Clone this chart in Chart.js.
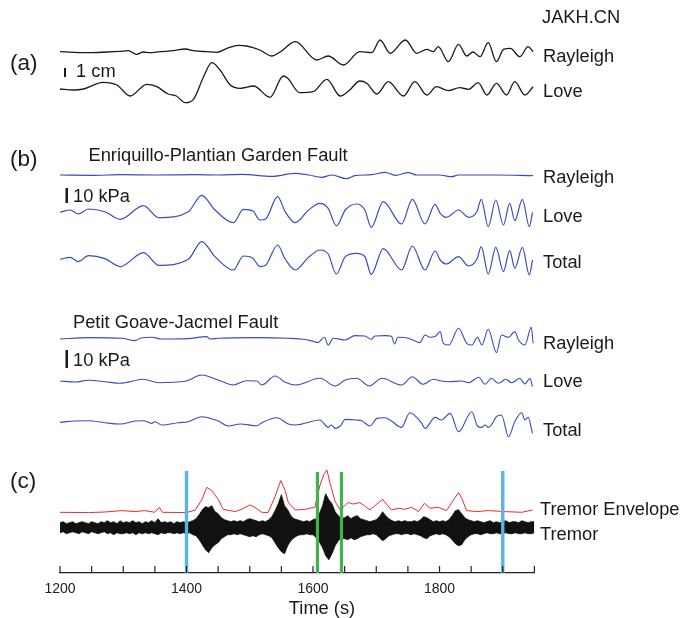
<!DOCTYPE html>
<html><head><meta charset="utf-8">
<script src="https://cdn.jsdelivr.net/npm/chart.js@4.4.1/dist/chart.umd.min.js"></script>
<style>html,body{margin:0;padding:0;background:#fff}#wrap{width:694px;height:618px}</style>
</head><body><div id="wrap"><canvas id="c" width="694" height="618"></canvas></div>
<script>
// ---------- data (time in s, amplitude in plot units) ----------
const tickLabels = [1200, 1400, 1600, 1800];

// (a) JAKH.CN displacement
const aRayT = [1200,1221,1247,1274,1295,1308,1321,1332,1342,1358,1379,1398,1411,1432,1448,1464,1482,1495,1516,1535,1548,1572,1606,1624,1648,1674,1693,1706,1722,1746,1764,1780,1790,1798,1814,1830,1843,1853,1864,1877,1890,1901,1912,1927,1940,1948];
const aRayV = [0.3,-0.3,-0.7,0,0.7,1.3,-2.3,0,-0.7,0.3,1.3,3,1.3,0.3,-0.3,3.7,6.7,6,2,-4,0,10.3,-8,-4,-13,0.3,-0.7,12,-1.3,12,-1.3,2.7,0.3,5.3,-9.7,7.7,-4,0,-4.7,9.3,-9.7,2.7,3.7,-4.7,5.3,0.3];
const aLoveT = [1200,1221,1237,1268,1290,1311,1337,1353,1371,1384,1398,1411,1427,1440,1453,1469,1485,1506,1532,1553,1560,1579,1600,1622,1643,1658,1674,1685,1701,1719,1743,1761,1780,1795,1814,1832,1846,1861,1875,1890,1906,1919,1935,1948];
const aLoveV = [0,-1,0,6.7,4,-7,4.7,2.3,-5,-7,-13.7,-10.3,12.3,26.3,19,4,0.7,3,-8.3,13,10.7,-3.7,-2.7,9.7,-7,-1,8,5.7,-5,7.3,-7,7.3,-6,2.3,-1.7,1.3,-0.3,6.3,-6,5.7,-6,7.3,-6,2.3];

// (b) Enriquillo-Plantian Garden Fault stress
const bRayT = [1200,1250,1298,1350,1414,1450,1487,1535,1572,1593,1614,1630,1653,1666,1693,1714,1730,1751,1764,1800,1819,1830,1888,1948];
const bRayV = [0,-0.3,0.3,0,0.3,0,0.7,-1.3,1.7,0,-2.3,0,-3.7,-0.7,0.3,2.7,-0.3,2.3,0,0,-1.7,0,0,-0.7];
const bLoveT = [1200,1216,1229,1245,1271,1295,1332,1356,1403,1424,1445,1474,1490,1505,1516,1525,1544,1556,1572,1593,1611,1624,1637,1651,1669,1682,1692,1711,1740,1757,1777,1793,1801,1811,1830,1846,1859,1866,1877,1889,1901,1911,1919,1931,1942,1947];
const bLoveV = [-0.3,2,-2,3,0.3,-7.3,6.3,-5.7,0.3,16.7,2,-10.7,2.7,1,-8,-7,15.3,0.3,-10.7,2,8.7,3.7,-14,2,8,2,-15.3,10.3,-12,12.7,-12,7.7,-1.3,-5.3,2,-5.3,0.3,12.7,-14.7,12,-13,8.7,-8.7,12.7,-14.7,-0.3];
const bTotT = [1200,1216,1229,1245,1271,1295,1332,1356,1403,1424,1445,1474,1490,1505,1516,1525,1544,1556,1572,1593,1611,1624,1637,1651,1669,1682,1692,1711,1740,1757,1777,1793,1801,1811,1830,1846,1859,1866,1877,1889,1901,1911,1919,1931,1942,1947];
const bTotV = [0,2,-2.3,3.7,0.7,-7.3,6.7,-6,0,17.7,2.7,-10.7,3.3,1,-7.3,-6,14.3,0.3,-10.7,2,9.3,5.3,-14.7,2.7,6,2.7,-15,10.7,-10.7,13.3,-10.7,8.3,-0.7,-4.7,2.7,-6.7,0,12.7,-14.7,12,-12.3,8.7,-9,12,-15.7,-0.7];

// (b) Petit Goave-Jacmel Fault stress
const cRayT = [1200,1245,1298,1319,1327,1345,1361,1403,1432,1437,1450,1508,1561,1585,1600,1608,1618,1624,1632,1651,1666,1682,1692,1698,1714,1724,1729,1734,1751,1769,1777,1785,1793,1801,1806,1815,1830,1843,1851,1860,1867,1877,1890,1898,1909,1919,1925,1935,1945,1948];
const cRayV = [-0.7,0.7,0,-2.3,0,1,-0.7,-0.3,1.7,-0.7,0,0.7,0,-1,-3,-4.3,1,-6.7,0,-1.7,2.7,2.3,-1,2.3,2.7,2,-5.7,1,0,-4.3,3.3,1,1.7,6.7,-5,-6.7,10,-5,-6.7,1,-6.7,9,-14.3,3.3,1,6.7,-1.7,-6.7,11,-5];
const cLoveT = [1200,1224,1245,1271,1295,1332,1356,1398,1424,1450,1474,1495,1511,1519,1540,1556,1572,1611,1635,1651,1669,1689,1709,1740,1757,1774,1790,1803,1814,1835,1846,1862,1872,1882,1893,1905,1914,1927,1935,1943,1947];
const cLoveV = [0,-1,0.7,-0.7,-2.3,1.7,-1.7,-0.3,6,1,-4,0.3,0,-4,5,-1.3,-4,2.7,-5,1,2.7,-5,2.7,-4,4.3,-3.3,1.7,0,-0.7,0,-1.7,3.7,-3.3,2.7,-2.3,1.7,-1.7,2.7,-3,2.7,-5.7];
const cTotT = [1200,1224,1245,1271,1295,1319,1332,1345,1350,1361,1387,1403,1424,1450,1466,1485,1511,1519,1543,1561,1572,1611,1624,1629,1635,1643,1651,1669,1677,1690,1701,1714,1724,1740,1753,1772,1777,1793,1803,1817,1830,1851,1860,1867,1872,1877,1882,1890,1898,1909,1919,1930,1935,1940,1947];
const cTotV = [-0.7,0.7,1,-1,-2.3,0.7,1,-1.7,0,-3.3,-1,0,5,0.7,-4.3,-2.3,-4,-1,4,-2.3,-3.3,1.7,-5.7,-3.3,-6.7,-4.3,2.3,1.7,1,-4.3,3.3,4,0.7,-5.7,9,-1.7,-6.7,4.3,1.7,8.3,-10,10,-4.3,-5.7,-3.3,-5.7,-3.3,5,6.7,-15,0,9,1.7,4.3,-11.7];

// (c) tremor envelope
const envT = [1200,1245,1271,1298,1319,1334,1350,1357,1362,1400,1414,1424,1432,1440,1450,1458,1477,1487,1500,1508,1519,1529,1540,1549,1556,1561,1572,1587,1603,1611,1618,1622,1627,1635,1643,1651,1656,1664,1674,1682,1690,1701,1710,1716,1724,1735,1745,1756,1767,1776,1785,1798,1811,1822,1830,1835,1843,1859,1877,1904,1930,1947];
const envV = [0,-0.3,0.3,1.7,0.7,1.7,0,5,0,-0.3,2.3,12.3,25,21.7,13,3,0.7,3,7.3,5,0,-0.3,15.7,31.7,21.7,9.7,2.3,3,5,27.3,39,42.3,29,10.7,2.3,7.3,9.7,8.3,9.7,6.3,2.3,8.3,13,8.3,2.3,4,3,5,0.7,9,4,5,1.7,12.3,19.7,14,1.7,0.7,1.7,0.7,0,2.3];
// (c) tremor band: upper / lower extent, sampled every 5 s from 1200 s
const TREM_T0 = 1200, TREM_DT = 5;
const tremUp = [5,6,4,5,6,4,5,6,5,4,6,5,4,6,5,7,5,6,4,7,
  5,6,5,7,5,6,4,6,5,7,5,9,5,6,5,6,4,6,5,6,
  5,6,7,9,13,18,21,20,22,16,14,10,8,7,6,7,6,7,6,8,
  9,8,7,6,7,6,8,11,17,24,33,22,18,12,9,8,7,6,7,6,
  8,9,14,22,34,28,24,16,12,9,10,12,9,11,12,9,8,7,6,7,
  8,11,16,12,9,7,6,7,6,7,6,6,7,6,8,11,10,8,6,7,
  6,7,6,8,12,17,18,14,10,8,7,6,7,6,5,6,7,5,6,5,
  6,7,5,6,6,5,7,6,5,6,6];
const tremLo = [5,4,6,5,4,5,6,4,5,6,4,5,6,5,4,6,5,7,5,6,
  6,5,6,5,7,5,6,5,6,5,6,7,5,6,5,5,6,5,6,5,
  6,5,7,8,12,17,22,25,20,17,15,11,9,7,7,6,7,6,7,8,
  9,8,9,7,6,7,8,10,15,20,24,26,18,13,10,8,7,7,6,7,
  7,10,14,20,28,32,26,18,13,10,11,12,10,12,11,9,8,7,7,6,
  7,10,13,11,8,7,6,6,7,6,6,7,6,7,8,10,11,8,7,6,
  7,6,7,9,12,16,18,17,12,9,7,6,6,7,6,5,6,6,5,6,
  6,5,6,6,5,6,6,5,6,6,5];
const tremT = tremUp.map((_, i) => TREM_T0 + i * TREM_DT);

// marker times
const blueMarks = [1400, 1900];
const greenMarks = [1607, 1645];

// ---------- layout (pixel heights above the time axis) ----------
const X_MIN = 1200, X_MAX = 1950, TICK_STEP = 50;
const H = 573;
const base = {aRay:521, aLove:484, bRay:398, bLove:361, bTot:313.7, cRay:234.7, cLove:192, cTot:151.3, env:60.7, trem:45.3};
const MARK_TOP = {blue:102, green:101};

function pts(ts, vs, b){ return ts.map((t,i)=>({x:t, y:b+vs[i]})); }
function ptsNeg(ts, vs, b){ return ts.map((t,i)=>({x:t, y:b-vs[i]})); }

const BLK = '#1a1a1a', BLU = '#3a4cb8', RED = '#ec2a2e';
function trace(data, color, w){
  return {data, borderColor:color, borderWidth:w, pointRadius:0, fill:false, cubicInterpolationMode:'monotone', order:2};
}
const datasets = [
  trace(pts(aRayT,aRayV,base.aRay), BLK, 1.3),
  trace(pts(aLoveT,aLoveV,base.aLove), BLK, 1.3),
  trace(pts(bRayT,bRayV,base.bRay), BLU, 1.2),
  trace(pts(bLoveT,bLoveV,base.bLove), BLU, 1.2),
  trace(pts(bTotT,bTotV,base.bTot), BLU, 1.2),
  trace(pts(cRayT,cRayV,base.cRay), BLU, 1.1),
  trace(pts(cLoveT,cLoveV,base.cLove), BLU, 1.1),
  trace(pts(cTotT,cTotV,base.cTot), BLU, 1.1),
  {data:pts(envT,envV,base.env), borderColor:RED, borderWidth:1, pointRadius:0, tension:0, fill:false, order:2},
  {data:pts(tremT,tremUp,base.trem), borderColor:'#111', borderWidth:0.8, pointRadius:0, tension:0, fill:false, order:3},
  {data:ptsNeg(tremT,tremLo,base.trem), borderColor:'#111', borderWidth:0.8, backgroundColor:'#111', pointRadius:0, tension:0, fill:'-1', order:3}
];
blueMarks.forEach(t=>datasets.push({data:[{x:t,y:0},{x:t,y:MARK_TOP.blue}], borderColor:'#5ab4e6', borderWidth:3.4, pointRadius:0, fill:false, order:0}));
greenMarks.forEach(t=>datasets.push({data:[{x:t,y:0},{x:t,y:MARK_TOP.green}], borderColor:'#3cb54a', borderWidth:3.2, pointRadius:0, fill:false, order:0}));

const FONT = '"Liberation Sans", Arial, Helvetica, sans-serif';
const FS = 18.3, FP = 22.5;
const texts = [
  ['JAKH.CN',542,23.3,FS],
  ['(a)',10,69.5,FP],
  ['Rayleigh',543,61.5,FS],
  ['Love',543,96.5,FS],
  ['1 cm',76,76.5,FS],
  ['(b)',10,166.3,FP],
  ['Enriquillo-Plantian Garden Fault',88.5,161,FS],
  ['Rayleigh',543,183.3,FS],
  ['10 kPa',73,201.7,FS],
  ['Love',543,221.7,FS],
  ['Total',543,268.3,FS],
  ['Petit Goave-Jacmel Fault',73,328.3,FS],
  ['Rayleigh',543,349.3,FS],
  ['10 kPa',73,365.7,FS],
  ['Love',543,387.3,FS],
  ['Total',543,436,FS],
  ['(c)',10,488,FP],
  ['Tremor Envelope',540,515,FS],
  ['Tremor',540,540,FS],
  ['Time (s)',322,614,FS,'center']
];
const bars = [[64,68,2,9],[65.5,188,2.5,15],[65.5,350,2.5,18]];

const annot = {
  id:'annot',
  afterDraw(chart){
    const ctx = chart.ctx, xs = chart.scales.x, ys = chart.scales.y;
    ctx.save();
    ctx.strokeStyle = '#222'; ctx.lineWidth = 1.2;
    for(let t=X_MIN; t<=X_MAX; t+=TICK_STEP){
      const x = xs.getPixelForValue(t);
      ctx.beginPath(); ctx.moveTo(x, ys.bottom); ctx.lineTo(x, ys.bottom-7); ctx.stroke();
    }
    ctx.fillStyle = '#1a1a1a';
    bars.forEach(b=>ctx.fillRect(b[0],b[1],b[2],b[3]));
    ctx.textBaseline = 'alphabetic';
    texts.forEach(t=>{
      ctx.font = t[3]+'px '+FONT;
      ctx.textAlign = t[4] || 'left';
      ctx.fillText(t[0], t[1], t[2]);
    });
    ctx.restore();
  }
};

new Chart(document.getElementById('c'), {
  type:'line',
  data:{datasets},
  options:{
    responsive:false, animation:false, devicePixelRatio:1,
    layout:{padding:{left:60, right:694-534.4, top:0, bottom:0}},
    plugins:{legend:{display:false}, tooltip:{enabled:false}},
    scales:{
      x:{type:'linear', min:X_MIN, max:X_MAX,
         afterFit:(s)=>{ s.height = 45; },
         grid:{display:true, drawOnChartArea:false, drawTicks:false},
         border:{display:true, color:'#222', width:1.3},
         ticks:{stepSize:TICK_STEP, autoSkip:false, maxRotation:0, padding:8, color:'#222',
                font:{family:FONT, size:14},
                callback:(v)=> tickLabels.includes(v) ? String(v) : ''}},
      y:{type:'linear', min:0, max:H, display:false}
    }
  },
  plugins:[annot]
});
</script></body></html>
